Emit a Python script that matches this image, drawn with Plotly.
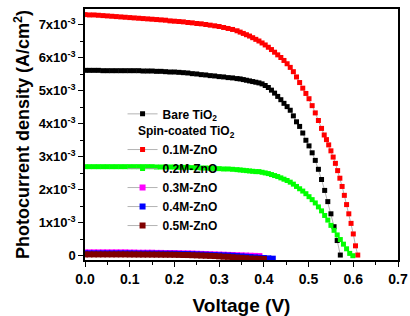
import plotly.graph_objects as go

# ---------------- data (J in units of 1e-3 A/cm^2) ----------------
v_bare = [0.00, 0.01, 0.02, 0.03, 0.04, 0.05, 0.06, 0.07, 0.08, 0.09, 0.10, 0.11, 0.12, 0.13, 0.14, 0.15,
          0.16, 0.17, 0.18, 0.19, 0.20, 0.21, 0.22, 0.23, 0.24, 0.25, 0.26, 0.27, 0.28, 0.29, 0.30, 0.31,
          0.32, 0.33, 0.34, 0.347, 0.354, 0.361, 0.368, 0.375, 0.382, 0.389, 0.396, 0.403, 0.410, 0.417,
          0.424, 0.431, 0.438, 0.445, 0.452, 0.459, 0.466, 0.473, 0.480, 0.487, 0.494, 0.501, 0.508, 0.515,
          0.522, 0.529, 0.536, 0.543, 0.550, 0.557, 0.564, 0.571]
j_bare = [5.62, 5.62, 5.62, 5.62, 5.61, 5.61, 5.61, 5.61, 5.61, 5.61, 5.61, 5.61, 5.61, 5.60, 5.60, 5.60,
          5.59, 5.59, 5.58, 5.57, 5.57, 5.56, 5.55, 5.54, 5.52, 5.51, 5.49, 5.48, 5.46, 5.45, 5.43, 5.42,
          5.40, 5.39, 5.37, 5.36, 5.34, 5.32, 5.30, 5.28, 5.26, 5.24, 5.21, 5.16, 5.10, 5.02,
          4.93, 4.83, 4.73, 4.62, 4.52, 4.41, 4.24, 4.06, 3.92, 3.72, 3.50, 3.33, 3.12, 2.89,
          2.62, 2.31, 1.98, 1.64, 1.27, 0.88, 0.46, 0.02]

v_01 = [0.00, 0.01, 0.02, 0.03, 0.04, 0.05, 0.06, 0.07, 0.08, 0.09, 0.10, 0.11, 0.12, 0.13, 0.14, 0.15,
        0.16, 0.17, 0.18, 0.19, 0.20, 0.21, 0.22, 0.23, 0.24, 0.25, 0.26, 0.27, 0.28, 0.29, 0.30, 0.31,
        0.32, 0.33, 0.34, 0.347, 0.354, 0.361, 0.368, 0.375, 0.382, 0.389, 0.396, 0.403, 0.410, 0.417,
        0.424, 0.431, 0.438, 0.445, 0.452, 0.459, 0.466, 0.473, 0.480, 0.487, 0.494, 0.501, 0.508, 0.515,
        0.522, 0.529, 0.535, 0.540, 0.545, 0.550, 0.555, 0.560, 0.565, 0.570, 0.575, 0.580, 0.585, 0.590,
        0.595, 0.600, 0.605, 0.610]
j_01 = [7.31, 7.30, 7.30, 7.29, 7.28, 7.27, 7.26, 7.25, 7.24, 7.23, 7.22, 7.21, 7.20, 7.19, 7.18, 7.17,
        7.16, 7.15, 7.14, 7.12, 7.11, 7.10, 7.09, 7.07, 7.06, 7.04, 7.03, 7.01, 6.99, 6.97, 6.95, 6.92,
        6.89, 6.86, 6.82, 6.78, 6.74, 6.70, 6.66, 6.61, 6.56, 6.51, 6.45, 6.39, 6.32, 6.25,
        6.17, 6.09, 6.01, 5.92, 5.82, 5.71, 5.58, 5.42, 5.25, 5.08, 4.92, 4.76, 4.55, 4.33,
        4.10, 3.86, 3.66, 3.52, 3.36, 3.18, 2.99, 2.80, 2.58, 2.35, 2.10, 1.83, 1.55, 1.27,
        0.98, 0.66, 0.30, 0.02]

v_02 = [0.00, 0.01, 0.02, 0.03, 0.04, 0.05, 0.06, 0.07, 0.08, 0.09, 0.10, 0.11, 0.12, 0.13, 0.14, 0.15,
        0.16, 0.17, 0.18, 0.19, 0.20, 0.21, 0.22, 0.23, 0.24, 0.25, 0.26, 0.27, 0.28, 0.29, 0.30, 0.31,
        0.32, 0.33, 0.34, 0.347, 0.354, 0.361, 0.368, 0.375, 0.382, 0.389, 0.396, 0.403, 0.410, 0.417,
        0.424, 0.431, 0.438, 0.445, 0.452, 0.459, 0.466, 0.473, 0.480, 0.487, 0.494, 0.501, 0.508, 0.515,
        0.522, 0.529, 0.536, 0.543, 0.550, 0.557, 0.564, 0.571, 0.578, 0.585, 0.592, 0.599]
j_02 = [2.70, 2.70, 2.70, 2.70, 2.70, 2.70, 2.70, 2.70, 2.70, 2.70, 2.70, 2.70, 2.70, 2.70, 2.70, 2.70,
        2.69, 2.69, 2.69, 2.69, 2.69, 2.68, 2.68, 2.68, 2.67, 2.67, 2.66, 2.66, 2.65, 2.65, 2.64, 2.63,
        2.63, 2.62, 2.61, 2.60, 2.59, 2.58, 2.57, 2.56, 2.55, 2.55, 2.53, 2.51, 2.49, 2.46,
        2.43, 2.40, 2.36, 2.32, 2.28, 2.23, 2.17, 2.10, 2.03, 1.96, 1.88, 1.79, 1.70, 1.60,
        1.48, 1.36, 1.22, 1.08, 0.92, 0.77, 0.63, 0.49, 0.35, 0.21, 0.07, 0.00]

v_small = [0.00, 0.01, 0.02, 0.03, 0.04, 0.05, 0.06, 0.07, 0.08, 0.09, 0.10, 0.11, 0.12, 0.13, 0.14,
           0.15, 0.16, 0.17, 0.18, 0.19, 0.20, 0.21, 0.22, 0.23, 0.24, 0.25, 0.26, 0.27, 0.28, 0.29,
           0.30, 0.31, 0.32, 0.33, 0.34, 0.35, 0.36, 0.37, 0.38, 0.39, 0.40, 0.41, 0.42]
j_03 = [0.10, 0.10, 0.10, 0.10, 0.10, 0.10, 0.10, 0.10, 0.10, 0.10, 0.095, 0.095, 0.09, 0.09, 0.09,
        0.09, 0.085, 0.085, 0.08, 0.08, 0.08, 0.075, 0.07, 0.07, 0.065, 0.06, 0.055, 0.05, 0.045, 0.04,
        0.035, 0.03, 0.025, 0.02, 0.015, 0.01, 0.005, 0.0, -0.005, -0.01]
j_04 = [0.07, 0.07, 0.07, 0.07, 0.07, 0.07, 0.07, 0.07, 0.07, 0.07, 0.07, 0.068, 0.066, 0.065, 0.065,
        0.065, 0.063, 0.062, 0.06, 0.06, 0.058, 0.055, 0.053, 0.05, 0.045, 0.04, 0.035, 0.03, 0.025, 0.02,
        0.015, 0.01, 0.005, 0.0, -0.01, -0.02, -0.03, -0.04, -0.05, -0.06, -0.07, -0.08, -0.09]
j_05 = [0.04, 0.04, 0.04, 0.04, 0.04, 0.04, 0.04, 0.04, 0.04, 0.04, 0.038, 0.037, 0.036, 0.035, 0.035,
        0.034, 0.033, 0.032, 0.03, 0.03, 0.028, 0.025, 0.022, 0.02, 0.015, 0.01, 0.005, 0.0, -0.005, -0.01,
        -0.02, -0.03, -0.035, -0.045, -0.055, -0.065, -0.075, -0.085, -0.09, -0.095, -0.10]

y_tickvals = [0, 1, 2, 3, 4, 5, 6, 7]
y_ticktext = ["0"] + [f"{k}x10<sup>-3</sup>" for k in range(1, 8)]
x_tickvals = [0.0, 0.1, 0.2, 0.3, 0.4, 0.5, 0.6, 0.7]

series = [
    ("Bare TiO<sub>2</sub>", v_bare, j_bare, "#000000", "legend", 5),
    ("0.1M-ZnO", v_01, j_01, "#ff0000", "legend2", 5),
    ("0.2M-ZnO", v_02, j_02, "#00ff00", "legend2", 5),
    ("0.3M-ZnO", v_small[:len(j_03)], j_03, "#ff00ff", "legend2", 6),
    ("0.4M-ZnO", v_small[:len(j_04)], j_04, "#0000ff", "legend2", 6),
    ("0.5M-ZnO", v_small[:len(j_05)], j_05, "#800000", "legend2", 6),
]

FONT = "Liberation Sans, Arial, sans-serif"

fig = go.Figure()
for name, vx, jy, col, leg, msize in series:
    fig.add_trace(go.Scatter(
        x=vx, y=jy, name=name, mode="lines+markers", legend=leg,
        line=dict(color="#a0a0a0", width=0.8),
        marker=dict(symbol="square", size=msize, color=col, line=dict(width=0)),
    ))

fig.update_layout(
    width=410, height=316,
    margin=dict(l=85, r=12, t=9, b=56),
    paper_bgcolor="white", plot_bgcolor="white",
    font=dict(family=FONT, size=12, color="black", weight="bold"),
    showlegend=True,
    legend=dict(x=0.12, y=0.64, xanchor="left", yanchor="top",
                bgcolor="rgba(0,0,0,0)", font=dict(size=12, weight="bold"),
                itemwidth=30, tracegroupgap=0),
    legend2=dict(x=0.12, y=0.56, xanchor="left", yanchor="top",
                 bgcolor="rgba(0,0,0,0)", font=dict(size=12, weight="bold"),
                 title=dict(text="\u00a0\u00a0\u00a0\u00a0Spin-coated TiO<sub>2</sub>", side="top",
                            font=dict(size=12, weight="bold")),
                 itemwidth=30, tracegroupgap=0),
)

fig.update_xaxes(
    range=[0, 0.7], tickvals=x_tickvals, tickformat=".1f", automargin=False,
    showgrid=False, zeroline=False,
    showline=True, linecolor="black", linewidth=1.5, mirror=True,
    ticks="outside", ticklen=5, tickwidth=1.2, tickcolor="black",
    tickfont=dict(size=14, weight="bold"),
    minor=dict(ticks="outside", ticklen=3, dtick=0.05, tickcolor="black", tickwidth=1),
    title=dict(text="Voltage (V)", font=dict(size=19, weight="bold"), standoff=14),
)
fig.update_yaxes(
    range=[-0.13, 7.48], tickvals=y_tickvals, ticktext=y_ticktext, automargin=False,
    showgrid=False, zeroline=False,
    showline=True, linecolor="black", linewidth=1.5, mirror=True,
    ticks="outside", ticklen=5, tickwidth=1.2, tickcolor="black",
    tickfont=dict(size=13, weight="bold"),
    minor=dict(ticks="outside", ticklen=3, dtick=0.5, tickcolor="black", tickwidth=1),
    title=dict(text="Photocurrent density (A/cm<sup>2</sup>)", font=dict(size=18, weight="bold"), standoff=4),
)

fig.write_html("out.html", config={"displayModeBar": False},
               post_script="document.body.style.margin='0';document.body.style.overflow='hidden';")
